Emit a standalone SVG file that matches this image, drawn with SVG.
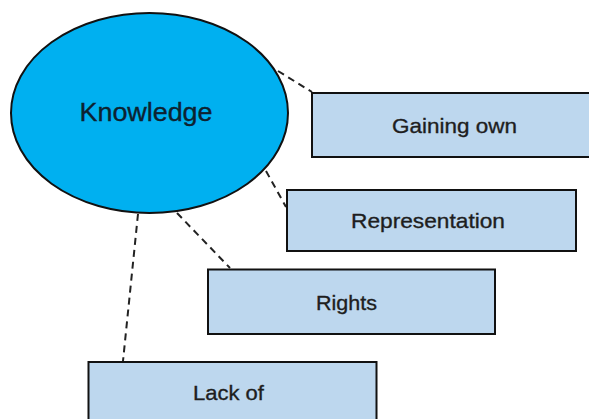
<svg xmlns="http://www.w3.org/2000/svg" width="589" height="419" viewBox="0 0 589 419">
<style>
.box{fill:#bdd7ee;stroke:#111;stroke-width:2}
.lbl{font-family:"Liberation Sans",Arial,sans-serif;font-size:21px;fill:#1e1e1e;stroke:#1e1e1e;stroke-width:0.35px;text-anchor:middle}
.con{stroke:#222;stroke-width:2;stroke-dasharray:7,5;fill:none}
</style>
<rect width="589" height="419" fill="#fff"/>
<g id="connectors">
<line class="con" x1="278" y1="71" x2="312" y2="92"/>
<line class="con" x1="266" y1="171" x2="286" y2="207"/>
<line class="con" x1="177" y1="213" x2="230" y2="268"/>
<line class="con" x1="138" y1="214" x2="123" y2="361"/>
</g>
<g id="knowledge">
<ellipse cx="149.5" cy="113" rx="138.5" ry="100" fill="#00b0f0" stroke="#111" stroke-width="2"/>
<text x="146" y="120.5" class="lbl" textLength="133" lengthAdjust="spacingAndGlyphs" style="font-size:26px;fill:#0d2230;stroke:#0d2230">Knowledge</text>
</g>
<g id="gaining-own">
<rect class="box" x="312" y="93" width="290" height="64"/>
<text x="454.5" y="133" class="lbl" textLength="125" lengthAdjust="spacingAndGlyphs">Gaining own</text>
</g>
<g id="representation">
<rect class="box" x="287" y="190" width="289" height="61"/>
<text x="428" y="228" class="lbl" textLength="154" lengthAdjust="spacingAndGlyphs">Representation</text>
</g>
<g id="rights">
<rect class="box" x="208" y="269.5" width="287" height="64.5"/>
<text x="346.5" y="310" class="lbl" textLength="61" lengthAdjust="spacingAndGlyphs">Rights</text>
</g>
<g id="lack-of">
<rect class="box" x="88.5" y="362" width="288" height="70"/>
<text x="228.5" y="400" class="lbl" textLength="71" lengthAdjust="spacingAndGlyphs">Lack of</text>
</g>
</svg>
